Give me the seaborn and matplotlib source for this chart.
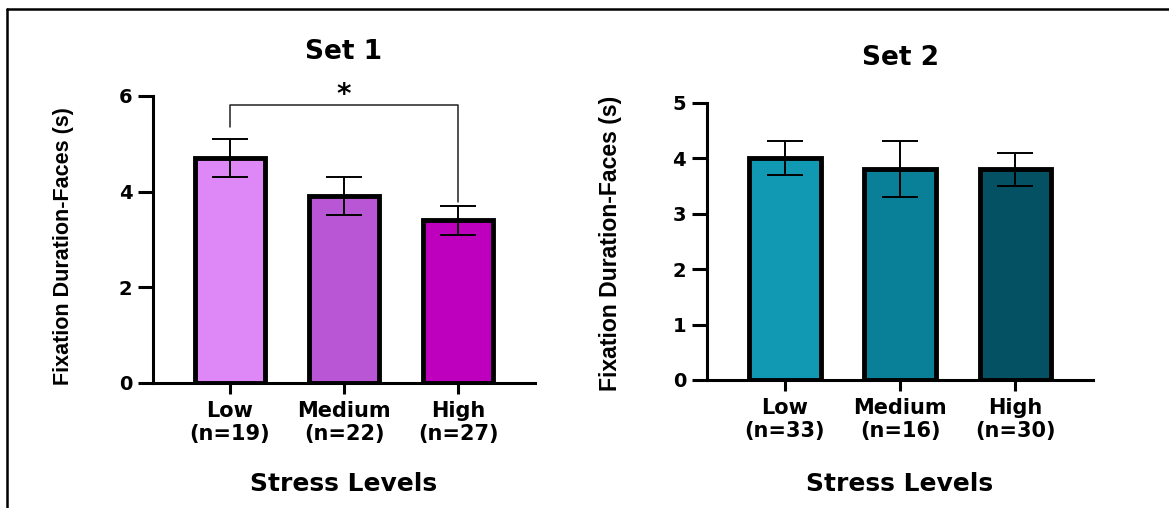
import matplotlib
matplotlib.use('Agg')
import matplotlib.pyplot as plt
from matplotlib.lines import Line2D
import pandas as pd
import seaborn as sns

# data
levels = ['Low', 'Medium', 'High']
set1_n = [19, 22, 27]
set1_mean = [4.7, 3.9, 3.4]
set1_err = [0.4, 0.4, 0.3]
set2_n = [33, 16, 30]
set2_mean = [4.0, 3.8, 3.8]
set2_err = [0.3, 0.5, 0.3]

set1_colors = ['#DD88F6', '#B856D6', '#BE00BE']
set2_colors = ['#1199B3', '#0A7F98', '#045163']

# significance bracket Low vs High in set 1
sig_pair = (0, 2)
sig_level = 5.81
sig_legs = (5.36, 3.79)

sns.set_style('ticks')
plt.rcParams['font.family'] = ['DejaVu Sans']
plt.rcParams['font.weight'] = 'bold'
plt.rcParams['text.color'] = 'black'
plt.rcParams['axes.labelcolor'] = 'black'
plt.rcParams['axes.edgecolor'] = 'black'
plt.rcParams['xtick.color'] = 'black'
plt.rcParams['ytick.color'] = 'black'

LABEL_FONT = ['Liberation Sans', 'DejaVu Sans']

fig = plt.figure(figsize=(11.69, 5.08), dpi=100)
ax1 = fig.add_axes([0.1309, 0.2467, 0.3268, 0.5644])
ax2 = fig.add_axes([0.6048, 0.2520, 0.3302, 0.5459])


def draw_panel(ax, means, errs, ns, colors, title, ymax, yticks, title_pad, ylab_size):
    df = pd.DataFrame({'level': levels, 'mean': means})
    sns.barplot(data=df, x='level', y='mean', hue='level', palette=colors,
                order=levels, legend=False, errorbar=None, width=0.62,
                saturation=1, edgecolor='black', linewidth=3.5, ax=ax)
    ax.errorbar(range(len(levels)), means, yerr=errs, fmt='none', ecolor='black',
                elinewidth=1.4, capsize=13, capthick=1.4, zorder=5)
    ax.set_xlim(-0.675, 2.675)
    ax.set_ylim(0, ymax)
    ax.set_yticks(yticks)
    ax.set_xticks(range(len(levels)))
    ax.set_xticklabels([f'{lv}\n(n={n})' for lv, n in zip(levels, ns)],
                       fontsize=15, fontweight='bold')
    ax.set_yticklabels([str(t) for t in yticks], fontsize=14, fontweight='bold')
    ax.tick_params(axis='y', length=11, width=2.2, pad=4)
    ax.tick_params(axis='x', length=8, width=2.2, pad=5)
    for side in ['top', 'right']:
        ax.spines[side].set_visible(False)
    for side in ['left', 'bottom']:
        ax.spines[side].set_linewidth(2.2)
    ax.set_title(title, fontsize=19, fontweight='bold', pad=title_pad)
    ax.set_xlabel('Stress Levels', fontsize=18, fontweight='bold')
    ax.set_ylabel('Fixation Duration-Faces (s)', fontsize=ylab_size,
                  fontweight='bold', family=LABEL_FONT)


draw_panel(ax1, set1_mean, set1_err, set1_n, set1_colors, 'Set 1', 6, [0, 2, 4, 6], 26.5, 15.5)
draw_panel(ax2, set2_mean, set2_err, set2_n, set2_colors, 'Set 2', 5, [0, 1, 2, 3, 4, 5], 27, 16.6)

ax1.yaxis.set_label_coords(-0.207, 0.475)
ax2.yaxis.set_label_coords(-0.220, 0.492)
ax1.xaxis.set_label_coords(0.5, -0.311)
ax2.xaxis.set_label_coords(0.5, -0.332)

# bracket with star
a, b = sig_pair
ax1.plot([a, a, b, b], [sig_legs[0], sig_level, sig_level, sig_legs[1]],
         color='#222222', lw=1.1, clip_on=False, zorder=6)
ax1.text((a + b) / 2, 6.03, '*', ha='center', va='center', fontsize=20,
         fontweight='bold', clip_on=False)

# outer frame (top and left edges)
y_top = 1 - 9 / 508
x_left = 7 / 1169
fig.add_artist(Line2D([x_left, 1.0], [y_top, y_top], transform=fig.transFigure,
                      color='black', lw=1.8))
fig.add_artist(Line2D([x_left, x_left], [0.0, y_top], transform=fig.transFigure,
                      color='black', lw=1.8))

fig.savefig('out.png', dpi=100)
